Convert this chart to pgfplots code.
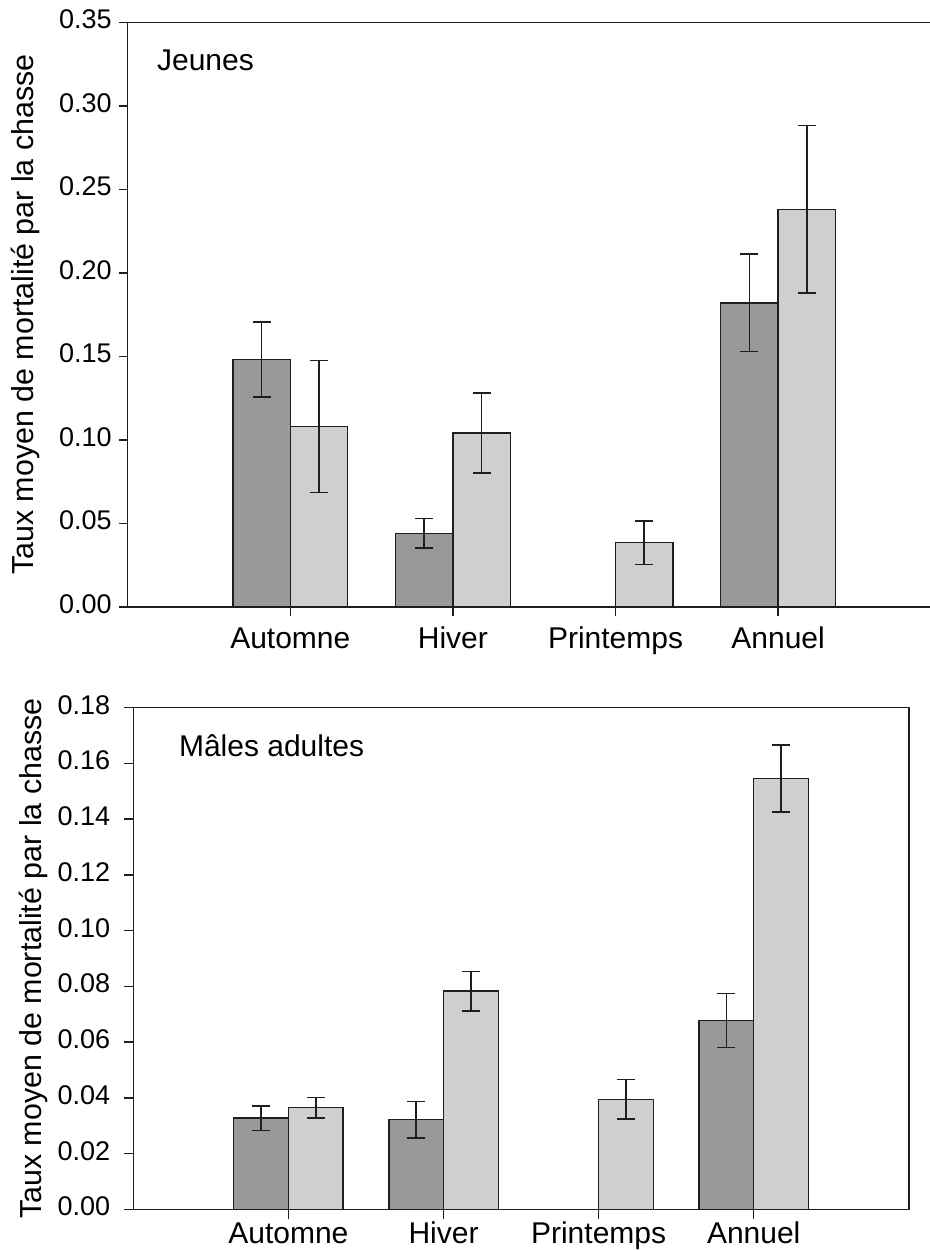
\documentclass[border=0pt]{standalone}
\usepackage{fontspec}
\setmainfont{Liberation Sans}
\usepackage{pgfplots}
\usepackage{pgfplotstable}
\pgfplotsset{compat=1.18}
\definecolor{darkbar}{RGB}{152,153,155}
\definecolor{lightbar}{RGB}{207,207,207}
\definecolor{ink}{RGB}{30,30,30}

\pgfplotstableread{
x y err
1 0.148 0.0225
2 0.044 0.0088
4 0.182 0.0292
}\jeunesdark
\pgfplotstableread{
x y err
1 0.108 0.0395
2 0.104 0.0239
3 0.0384 0.0131
4 0.238 0.0502
}\jeuneslight
\pgfplotstableread{
x y err
1 0.0328 0.0044
2 0.0322 0.0065
4 0.0678 0.0096
}\malesdark
\pgfplotstableread{
x y err
1 0.0365 0.0037
2 0.0783 0.0071
3 0.0395 0.0071
4 0.1546 0.0120
}\maleslight

\pgfplotsset{
  mybase/.style={
    scale only axis,
    anchor=south west,
    xmin=0, ymin=0,
    xtick={1,2,3,4},
    xticklabels={Automne,Hiver,Printemps,Annuel},
    typeset ticklabels with strut,
    x tick label style={font=\fontsize{15}{18}\selectfont},
    y tick label style={font=\fontsize{13.5}{16}\selectfont},
    yticklabel style={/pgf/number format/fixed, /pgf/number format/fixed zerofill, /pgf/number format/precision=2},
    /pgf/number format/assume math mode=true,
    scaled y ticks=false,
    tick align=outside,
    major tick length=4.5pt,
    tick pos=left,
    axis line style={-, line width=0.75pt, ink},
    tick style={line width=0.75pt, ink},
    ylabel={Taux moyen de mortalité par la chasse},
    clip=false,
  },
  barbase/.style={ybar, bar width=0.353, bar shift=0, draw=ink, line width=0.75pt,
    error bars/.cd, y dir=both, y explicit,
    error bar style={line width=0.75pt, ink},
    error mark options={rotate=90, mark size=4.5pt, line width=0.75pt, ink}},
  darkbars/.style={fill=darkbar, barbase},
  lightbars/.style={fill=lightbar, barbase},
}

\begin{document}
\begin{tikzpicture}
\useasboundingbox (0,0) rectangle (465pt,625.5pt);
% Top panel: Jeunes
\begin{axis}[mybase,
  at={(63.85pt,322.1pt)},
  width=401.15pt, height=292.25pt,
  xmax=4.934, ymax=0.35,
  ytick={0,0.05,0.10,0.15,0.20,0.25,0.30,0.35},
  axis x line*=bottom, axis y line*=left,
  every axis y label/.style={at={(axis description cs:-0.128,0.5)}, rotate=90, anchor=center, font=\fontsize{15.2}{18}\selectfont},
]
\addplot[darkbars] table[x expr=\thisrow{x}-0.1765, y=y, y error=err] {\jeunesdark};
\addplot[lightbars] table[x expr=\thisrow{x}+0.1765, y=y, y error=err] {\jeuneslight};
\draw[line width=0.75pt, ink] (rel axis cs:0,1) -- (rel axis cs:1,1);
\node[anchor=base west, font=\fontsize{15}{18}\selectfont] at (rel axis cs:0.0278,0.9167) {Jeunes};
\end{axis}
% Bottom panel: Males adultes
\begin{axis}[mybase,
  at={(66.65pt,20.75pt)},
  width=387.75pt, height=250.9pt,
  xmax=5, ymax=0.18,
  ytick={0,0.02,0.04,0.06,0.08,0.10,0.12,0.14,0.16,0.18},
  yticklabel style={xshift=-3.5pt},
  xticklabel style={yshift=3.5pt},
  every axis y label/.style={at={(axis description cs:-0.129,0.5)}, rotate=90, anchor=center, font=\fontsize{15.2}{18}\selectfont},
]
\addplot[darkbars] table[x expr=\thisrow{x}-0.1765, y=y, y error=err] {\malesdark};
\addplot[lightbars] table[x expr=\thisrow{x}+0.1765, y=y, y error=err] {\maleslight};
\node[anchor=base west, font=\fontsize{15}{18}\selectfont] at (rel axis cs:0.0499,0.9024) {Mâles adultes};
\end{axis}
\end{tikzpicture}
\end{document}
